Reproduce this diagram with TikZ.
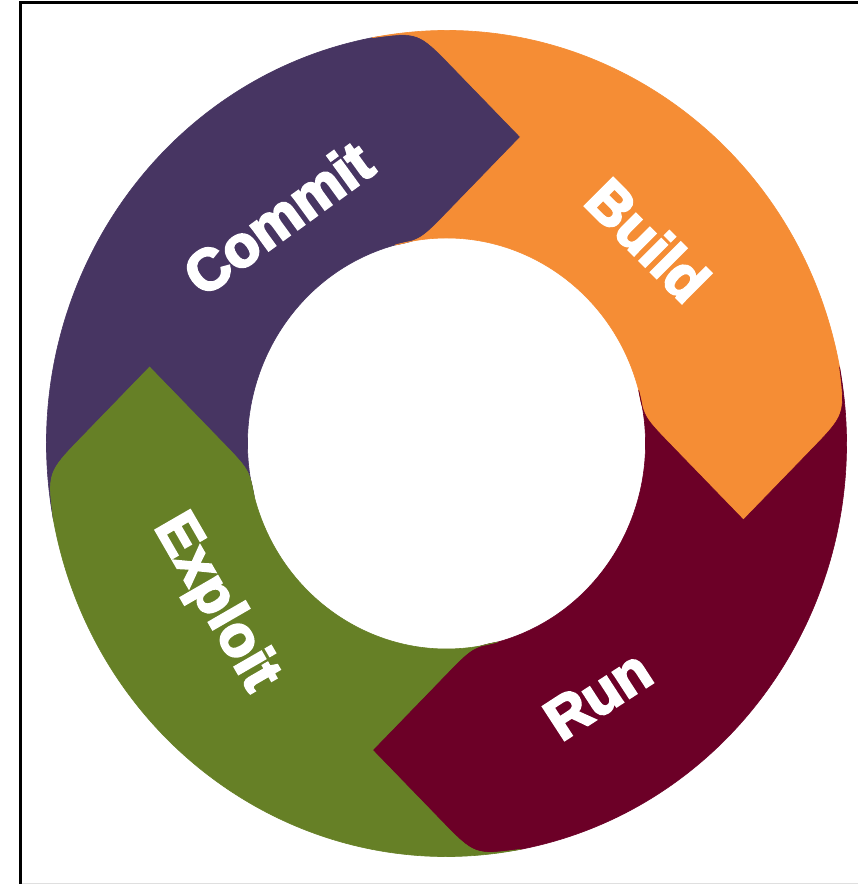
\documentclass[tikz,border=0pt]{standalone}
\usepackage{fontspec}
\setmainfont{Liberation Sans}[BoldFeatures={FakeBold=4}]
\definecolor{cpurple}{HTML}{473562}
\definecolor{corange}{HTML}{F58D35}
\definecolor{cred}{HTML}{6C0027}
\definecolor{cgreen}{HTML}{668026}
\tikzset{
  ringseg/.pic={
    \path[pic actions]
      (190.7:400) arc[start angle=190.7, end angle=100.7, radius=400]
      .. controls (-28.07,399.01) .. (6.86,364.08)
      -- (74.03,296.91)
      -- (3.32,226.2)
      .. controls (-25.53,197.35) .. (-51.5,192.22)
      arc[start angle=105, end angle=195, radius=199]
      .. controls (-197.35,-25.53) .. (-226.2,3.32)
      -- (-296.91,74.03)
      -- (-364.08,6.86)
      .. controls (-399.01,-28.07) .. (190.7:400) -- cycle;
  },
  segstyle/.style={transform shape, fill=#1, draw=#1, line width=0.6pt},
  lbl/.style={text=white, inner sep=0pt, font=\fontsize{58}{60}\selectfont\bfseries},
  frameline/.style={line width=3pt, black}
}
\begin{document}
\begin{tikzpicture}[x=1pt,y=1pt]
\useasboundingbox (0,0) rectangle (858,884);
\fill[white] (0,0) rectangle (858,884);
\begin{scope}[shift={(446.5,440.5)}, yscale=1.0325]
  \pic[segstyle=cpurple] {ringseg};
  \pic[rotate=-90, segstyle=corange] {ringseg};
  \pic[rotate=-180, segstyle=cred] {ringseg};
  \pic[rotate=-270, segstyle=cgreen] {ringseg};
\end{scope}
\node[lbl, rotate=36] (commit) at (278,666) {Commit};
\node[lbl, rotate=-45] (build) at (648,644) {Build};
\node[lbl, rotate=33] (run) at (598,189) {Run};
\node[lbl, rotate=-60] (exploit) at (215,281) {Exploit};
\draw[frameline] (20,0) -- (20,881.5) -- (858,881.5);
\draw[gray!25, line width=1.2pt] (21.5,0.8) -- (858,0.8);
\end{tikzpicture}
\end{document}
